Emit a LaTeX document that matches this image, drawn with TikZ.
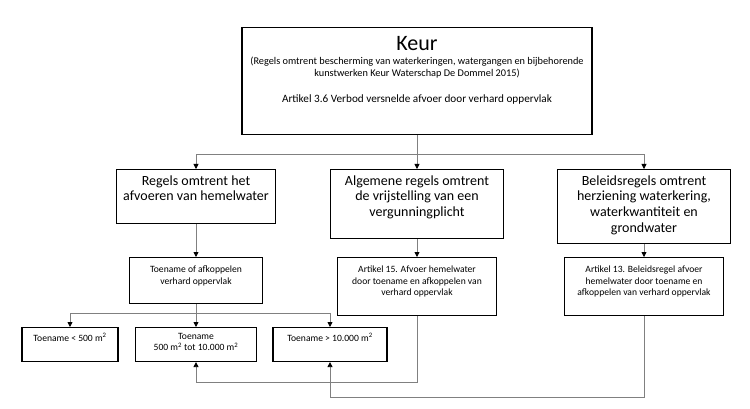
\documentclass[tikz,border=0pt]{standalone}
\usepackage{fontspec}
\setmainfont{Carlito}
\usetikzlibrary{arrows.meta,positioning}
% box content, top aligned: height, width, top gap, text
\newcommand{\boxtext}[4]{\parbox[c][#1][t]{#2}{\centering\vspace*{#3}#4\par}}
\newcommand{\sqm}{m\textsuperscript{2}}

\begin{document}
\begin{tikzpicture}[
      x=1pt, y=-1pt,
      box/.style={draw, line width=1.1pt, inner sep=0pt, anchor=north},
      big/.style={font=\fontsize{14}{15.7}\selectfont},
      small/.style={font=\fontsize{9.6}{11.5}\selectfont},
      link/.style={draw=gray, line width=0.8pt},
      linkarrow/.style={link, -{Triangle[width=5pt,length=5pt,color=black]}}
      ]

      \path[use as bounding box] (0,0) rectangle (750,409);

      \node[box] (keur) at (417,27) {\boxtext{107pt}{350pt}{9pt}{%
        {\fontsize{22}{24}\selectfont Keur\par}
        \vspace{2pt}
        {\fontsize{10.3}{11.7}\selectfont (Regels omtrent bescherming van waterkeringen, watergangen en bijbehorende\\ kunstwerken Keur Waterschap De Dommel 2015)\par}
        \vspace{14pt}
        {\fontsize{11.2}{12}\selectfont Artikel 3.6 Verbod versnelde afvoer door verhard oppervlak\par}}};

      % tweede rij
      \node[box,big] (afvoeren) at (196,169) {\boxtext{54pt}{159pt}{6pt}{Regels omtrent het\\ afvoeren van hemelwater}};
      \node[box,big] (algemeen) at (417,169) {\boxtext{69pt}{173pt}{6pt}{Algemene regels omtrent\\ de vrijstelling van een\\ vergunningplicht}};
      \node[box,big] (beleid) at (644,169) {\boxtext{74pt}{173pt}{6pt}{Beleidsregels omtrent\\ herziening waterkering,\\ waterkwantiteit en\\ grondwater}};

      \coordinate (split) at (417,154);
      \path[linkarrow] (keur) -- (algemeen);
      \path[linkarrow] (split) -| (afvoeren);
      \path[linkarrow] (split) -| (beleid);

      % derde rij
      \node[box,small] (afkoppelen) at (196,257) {\boxtext{46pt}{133pt}{8.5pt}{Toename of afkoppelen\\ verhard oppervlak}};
      \node[box,small] (art15) at (417,257) {\boxtext{58pt}{159pt}{8.5pt}{Artikel 15. Afvoer hemelwater\\ door toename en afkoppelen van\\ verhard oppervlak}};
      \node[box,small] (art13) at (644,257) {\boxtext{58pt}{159pt}{8.5pt}{Artikel 13. Beleidsregel afvoer\\ hemelwater door toename en\\ afkoppelen van verhard oppervlak}};

      \path[linkarrow] (afvoeren) -- (afkoppelen);
      \path[linkarrow] (algemeen) -- (art15);
      \path[linkarrow] (beleid) -- (art13);

      % onderste rij
      \node[box,small] (klein) at (70,327) {\boxtext{34pt}{96pt}{5.5pt}{Toename < 500 \sqm}};
      \node[box,small] (middel) at (196,327) {\boxtext{34pt}{121pt}{5.5pt}{Toename\\ 500 \sqm{} tot 10.000 \sqm}};
      \node[box,small] (groot) at (330,327) {\boxtext{34pt}{114pt}{5.5pt}{Toename > 10.000 \sqm}};

      \coordinate (fork) at (196,313);
      \path[link] (afkoppelen) -- (fork);
      \path[linkarrow] (fork) -| (klein);
      \path[linkarrow] (fork) -- (middel);
      \path[linkarrow] (fork) -| (groot);

      \path[linkarrow] (art15.south) -- ++(0,66) -| (middel.south);
      \path[linkarrow] (art13.south) -- ++(0,81) -| (groot.south);
    \end{tikzpicture}
\end{document}
